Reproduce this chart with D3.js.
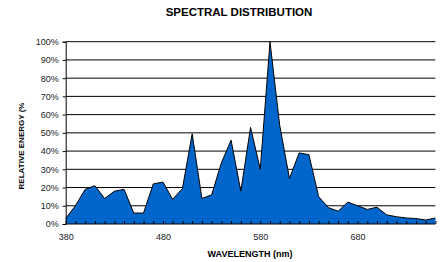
<!DOCTYPE html>
<html>
<head>
<meta charset="utf-8">
<script src="https://cdn.jsdelivr.net/npm/d3@7"></script>
<style>
  body { margin: 0; background: white; }
  text { font-family: "Liberation Sans", Arial, sans-serif; }
</style>
</head>
<body>
<div id="chart"></div>
<script>
// wavelength categories (nm)
const wavelengths = [380, 390, 400, 410, 420, 430, 440, 450, 460, 470,
  480, 490, 500, 510, 520, 530, 540, 550, 560, 570,
  580, 590, 600, 610, 620, 630, 640, 650, 660, 670,
  680, 690, 700, 710, 720, 730, 740, 750, 760];
// relative energy (%)
const energy = [3, 10, 19, 21, 14, 18, 19, 6, 6, 22,
  23, 13.5, 19.5, 49.5, 14, 16, 33.5, 46, 18, 53,
  30, 100, 54, 25, 39, 38, 15, 9, 7, 12,
  10, 8, 9.2, 5, 4, 3.3, 3, 2.2, 3.3];
const yTicks = [0, 10, 20, 30, 40, 50, 60, 70, 80, 90, 100];
const xLabels = [380, 480, 580, 680];

const width = 442, height = 262;
const plotLeft = 65.7, plotRight = 435.4, plotTop = 41.7, plotBottom = 224;

const svg = d3.select("#chart").append("svg")
  .attr("width", width)
  .attr("height", height);

const x = d3.scalePoint().domain(wavelengths).range([plotLeft, plotRight]);
const y = d3.scaleLinear().domain([0, 100]).range([plotBottom, plotTop]);

// gridlines
svg.append("g")
  .selectAll("line")
  .data(yTicks.slice(1))
  .enter()
  .append("line")
  .attr("x1", plotLeft)
  .attr("x2", plotRight)
  .attr("y1", d => y(d))
  .attr("y2", d => y(d))
  .attr("stroke", "#000")
  .attr("stroke-width", 1);

// area
const area = d3.area()
  .x((d, i) => x(wavelengths[i]))
  .y0(plotBottom)
  .y1(d => y(d));
svg.append("path")
  .datum(energy)
  .attr("d", area)
  .attr("fill", "#0066cc");

const line = d3.line()
  .x((d, i) => x(wavelengths[i]))
  .y(d => y(d));
svg.append("path")
  .datum(energy)
  .attr("d", line)
  .attr("fill", "none")
  .attr("stroke", "#000")
  .attr("stroke-width", 1);

// y axis
const yAxis = d3.axisLeft(y)
  .tickValues(yTicks)
  .tickSize(3)
  .tickFormat(d => d + "%");
const gy = svg.append("g")
  .attr("transform", "translate(" + plotLeft + ",0)")
  .call(yAxis);
gy.select(".domain").attr("stroke", "#000");
gy.selectAll("text")
  .attr("font-size", "9px")
  .attr("fill", "#222")
  .attr("x", -7);

// x axis
const xAxis = d3.axisBottom(x)
  .tickSize(-3)
  .tickFormat(d => xLabels.includes(d) ? d : "");
const gx = svg.append("g")
  .attr("transform", "translate(0," + plotBottom + ")")
  .call(xAxis);
gx.select(".domain").attr("d", "M" + plotLeft + ",0H" + plotRight).attr("stroke", "#000");
gx.selectAll("text")
  .attr("font-size", "9px")
  .attr("fill", "#222")
  .attr("y", 10);

// titles
svg.append("text")
  .attr("x", 239)
  .attr("y", 16)
  .attr("text-anchor", "middle")
  .attr("font-size", "11.5px")
  .attr("font-weight", "bold")
  .text("SPECTRAL DISTRIBUTION");

svg.append("text")
  .attr("x", 250)
  .attr("y", 257)
  .attr("text-anchor", "middle")
  .attr("font-size", "9px")
  .attr("font-weight", "bold")
  .text("WAVELENGTH (nm)");

svg.append("text")
  .attr("transform", "translate(24,146) rotate(-90)")
  .attr("text-anchor", "middle")
  .attr("font-size", "8px")
  .attr("font-weight", "bold")
  .text("RELATIVE ENERGY (%");
</script>
</body>
</html>
